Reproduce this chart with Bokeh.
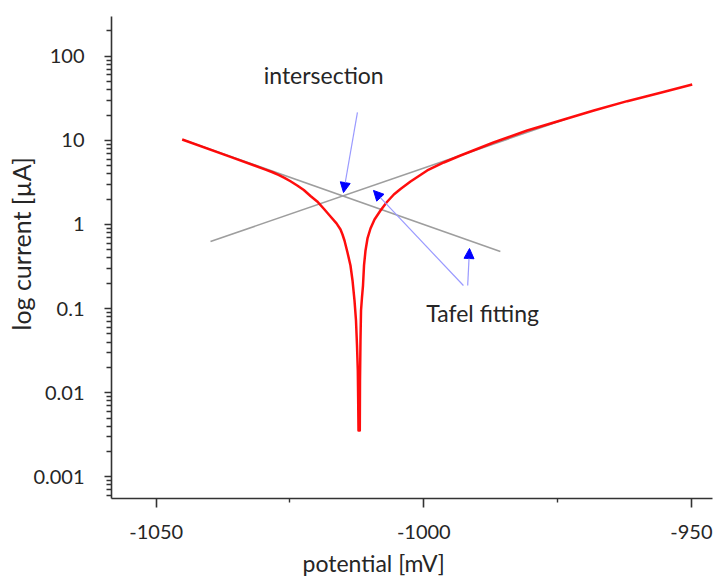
from bokeh.plotting import figure
from bokeh.models import FixedTicker, Range1d, Arrow, NormalHead, Label, Title, CustomJSTickFormatter
from bokeh.embed import file_html
from bokeh.resources import INLINE

# ---- data ----
# polarization curve: potential [mV], current [uA]
potential = [-1045.14, -1036.12, -1029.58, -1028.27, -1027.15, -1026.03, -1024.91, -1023.65,
             -1022.42, -1021.17, -1019.92, -1018.68, -1017.43, -1016.31, -1015.56, -1015.19,
             -1014.82, -1014.26, -1013.70, -1013.32, -1012.95, -1012.67, -1012.48, -1012.33,
             -1012.26, -1012.20,
             -1011.96, -1011.92, -1011.83, -1011.73, -1011.55, -1011.36, -1011.17, -1010.89,
             -1010.52, -1009.96, -1009.21, -1008.09, -1006.97, -1005.60, -1004.35, -1002.48,
             -999.36, -996.26, -993.14, -986.98, -980.68, -974.46, -968.23, -962.00,
             -955.77, -949.85]
current = [10.25, 6.37, 4.50, 4.18, 3.89, 3.59, 3.27, 2.91,
           2.572, 2.183, 1.88, 1.54, 1.245, 1.03, 0.872, 0.760,
           0.645, 0.465, 0.3255, 0.216, 0.125, 0.0722, 0.0364, 0.0184,
           0.00808, 0.00355,
           0.00355, 0.01396, 0.0418, 0.0949, 0.1355, 0.188, 0.3255, 0.491,
           0.682, 0.896, 1.147, 1.467, 1.827, 2.274, 2.643, 3.246,
           4.39, 5.46, 6.61, 9.44, 13.12, 17.25, 22.68, 29.26,
           36.83, 46.2]

# Tafel fitting lines
cath_pot = [-1045.1, -985.7]
cath_cur = [10.25, 0.477]
anod_pot = [-1039.85, -973.15]
anod_cur = [0.628, 18.2]

# annotation arrows: (x_start, y_start) -> (x_end, y_end)
arrow_x0 = [-1012.4, -992.6, -991.8]
arrow_y0 = [21.5, 0.188, 0.188]
arrow_x1 = [-1015.0, -1009.4, -991.46]
arrow_y1 = [2.40, 2.54, 0.518]

label_texts = ["intersection", "Tafel fitting"]
label_x = [-1018.7, -989.0]
label_y = [59.1, 0.0875]

x_ticks = [-1050, -1000, -950]
x_minor = [-1025, -975]
y_ticks = [0.001, 0.01, 0.1, 1, 10, 100]
y_minor = [k * 10.0 ** d for d in range(-4, 3) for k in range(2, 10)]

x_title = "potential [mV]"
y_title = "log current [µA]"

FONT = "Lato"
TXT = "#262626"

p = figure(frame_width=601, frame_height=482,
           y_axis_type="log",
           x_range=Range1d(-1058.35, -946.06),
           y_range=Range1d(10 ** -3.258, 10 ** 2.473),
           output_backend="svg", toolbar_location=None,
           min_border_left=111, min_border_top=16, min_border_right=5, min_border_bottom=84)

p.outline_line_color = None
p.xgrid.visible = False
p.ygrid.visible = False
p.background_fill_color = "white"

# axes
p.xaxis.ticker = FixedTicker(ticks=x_ticks, minor_ticks=x_minor)
p.yaxis.ticker = FixedTicker(ticks=y_ticks, minor_ticks=y_minor)
p.yaxis.formatter = CustomJSTickFormatter(code="return String(tick);")
p.xaxis.formatter = CustomJSTickFormatter(code="return tick.toFixed(0);")
for ax in (p.xaxis, p.yaxis):
    ax.axis_line_color = "#333333"
    ax.axis_line_width = 1.6
    ax.major_tick_line_color = "#333333"
    ax.minor_tick_line_color = "#333333"
    ax.major_tick_line_width = 1.6
    ax.minor_tick_line_width = 1.4
    ax.major_tick_in = 0
    ax.minor_tick_in = 0
    ax.major_label_text_font = FONT
    ax.major_label_text_font_size = "20px"
    ax.major_label_text_color = TXT
p.xaxis.major_tick_out = 9
p.xaxis.minor_tick_out = 4
p.yaxis.major_tick_out = 7
p.yaxis.minor_tick_out = 5
p.xaxis.major_label_standoff = 17
p.yaxis.major_label_standoff = 20

# axis titles (off-centre, as in the reference)
p.add_layout(Title(text=x_title, align="left", offset=191, standoff=11,
                   text_font=FONT, text_font_size="23px", text_font_style="normal",
                   text_color=TXT), "below")
p.add_layout(Title(text=y_title, align="left", offset=168, standoff=-10,
                   text_font=FONT, text_font_size="25px", text_font_style="normal",
                   text_color=TXT), "left")

# Tafel lines
p.line(cath_pot, cath_cur, line_color="#9e9e9e", line_width=1.6)
p.line(anod_pot, anod_cur, line_color="#9e9e9e", line_width=1.6)

# polarization curve
p.line(potential, current, line_color="#ff0000", line_width=2.5, line_alpha=0.95,
       line_join="round")

# arrows
for i in range(len(arrow_x0)):
    p.add_layout(Arrow(end=NormalHead(size=10, fill_color="#0000ff", line_color="#0000ff", line_width=1),
                       x_start=arrow_x0[i], y_start=arrow_y0[i],
                       x_end=arrow_x1[i], y_end=arrow_y1[i],
                       line_color="#9a9aff", line_width=1.2))

for t, x, y in zip(label_texts, label_x, label_y):
    p.add_layout(Label(x=x, y=y, text=t, text_align="center", text_baseline="middle",
                       text_font=FONT, text_font_size="23px", text_color=TXT))

open("out.html", "w").write(file_html(p, INLINE))
